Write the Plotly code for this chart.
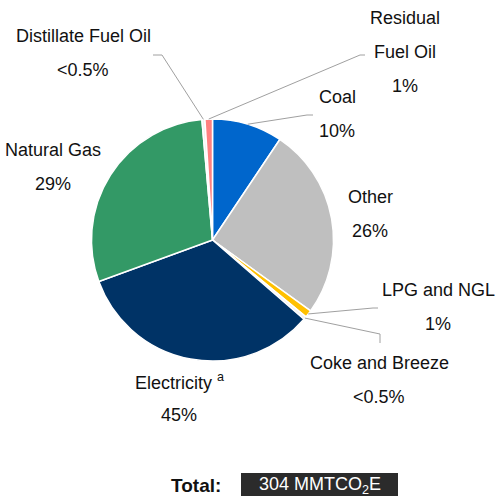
import math
import plotly.graph_objects as go

W, H = 498, 496

# ---- data ----
categories = ["Coal", "Other", "LPG and NGL", "Coke and Breeze", "Electricity",
              "Natural Gas", "Distillate Fuel Oil", "Residual Fuel Oil"]
values = [9.4, 25.6, 1.0, 0.4, 33.1, 29.2, 0.4, 1.0]          # visual slice shares
pct_labels = ["10%", "26%", "1%", "<0.5%", "45%", "29%", "<0.5%", "1%"]
name_lines = [["Coal"], ["Other"], ["LPG and NGL"], ["Coke and Breeze"],
              ["Electricity <sup>a</sup>"], ["Natural Gas"], ["Distillate Fuel Oil"],
              ["Residual", "Fuel Oil"]]
total_label = "Total:"
total_value = "304 MMTCO<sub>2</sub>E"

# ---- style ----
colors = ["#0066CC", "#BFBFBF", "#FFC000", "#F2F2F2", "#003366",
          "#339966", "#F2F2F2", "#FF8080"]
FONT = "Liberation Sans Narrow, Arial Narrow, Liberation Sans, Arial, sans-serif"
FS = 18
LINE_GAP = 34
# pie placement in pixels
CX, CY, R = 212.5, 240, 121
# label first-line centre (px) and leader elbow/end (px) per category
label_pos = [(337, 97), (370, 197), (438, 290), (379, 363), (179, 381),
             (53, 150), (83, 36), (405, 18)]
leaders = {
    "Coal": [(307, 115), (313, 115)],
    "LPG and NGL": [(373, 308), (378, 308)],
    "Coke and Breeze": [(380, 334), (380, 343)],
    "Distillate Fuel Oil": [(162, 55), (153, 55)],
    "Residual Fuel Oil": [(360, 55), (365, 55)],
}

def px(x):
    return x / W

def py(y):
    return 1 - y / H

fig = go.Figure(go.Pie(
    labels=categories, values=values, sort=False, direction="clockwise",
    rotation=0, textinfo="none", hoverinfo="label+percent",
    marker=dict(colors=colors, line=dict(color="white", width=1.5)),
    domain=dict(x=[px(CX - R), px(CX + R)], y=[py(CY + R), py(CY - R)]),
    showlegend=False,
))

annotations = []
for name, lines, pct, (lx, ly) in zip(categories, name_lines, pct_labels, label_pos):
    all_lines = lines + [pct]
    for i, t in enumerate(all_lines):
        annotations.append(dict(
            x=px(lx), y=py(ly + i * LINE_GAP), xref="paper", yref="paper",
            text=t, showarrow=False, xanchor="center", yanchor="middle",
            font=dict(family=FONT, size=FS, color="#111111")))

# leader lines: tip at slice mid-angle on pie edge
shapes = []
total = sum(values)
cum = 0
for name, v in zip(categories, values):
    mid = (cum + v / 2) / total * 2 * math.pi
    cum += v
    if name not in leaders:
        continue
    tip = (CX + R * math.sin(mid), CY - R * math.cos(mid))
    pts = [tip] + leaders[name]
    for (x0, y0), (x1, y1) in zip(pts[:-1], pts[1:]):
        shapes.append(dict(type="line", xref="paper", yref="paper",
                           x0=px(x0), y0=py(y0), x1=px(x1), y1=py(y1),
                           line=dict(color="#A0A0A0", width=1)))

# total box
shapes.append(dict(type="rect", xref="paper", yref="paper",
                   x0=px(241), x1=px(398), y0=py(497), y1=py(473),
                   fillcolor="#2B2B2B", line=dict(width=0)))
annotations.append(dict(x=px(196), y=py(485), xref="paper", yref="paper",
                        text="<b>" + total_label + "</b>", showarrow=False,
                        xanchor="center", yanchor="middle",
                        font=dict(family=FONT, size=19, color="#111111")))
annotations.append(dict(x=px(319.5), y=py(485), xref="paper", yref="paper",
                        text=total_value, showarrow=False,
                        xanchor="center", yanchor="middle",
                        font=dict(family=FONT, size=18, color="white")))

fig.update_layout(
    width=W, height=H, margin=dict(l=0, r=0, t=0, b=0),
    paper_bgcolor="white", plot_bgcolor="white",
    annotations=annotations, shapes=shapes,
)
fig.write_html("out.html", config={"displayModeBar": False},
               post_script="document.body.style.margin='0px';document.body.style.overflow='hidden';")
